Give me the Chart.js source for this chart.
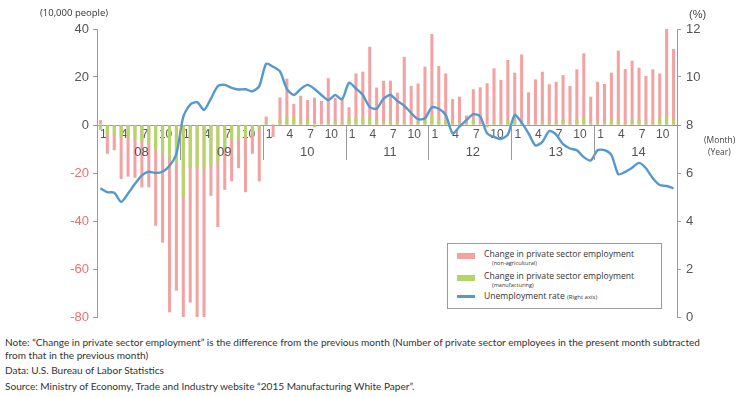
<!DOCTYPE html>
<html>
<head>
<meta charset="utf-8">
<script src="https://cdn.jsdelivr.net/npm/chart.js@4.4.1/dist/chart.umd.min.js"></script>
<style>
  html, body { margin: 0; padding: 0; background: #fff; }
  #wrap { position: relative; width: 738px; height: 397px; overflow: hidden; font-family: "Liberation Sans", Arial, sans-serif; color: #555; }
  #chartBox { position: absolute; left: 0; top: 0; width: 738px; height: 330px; }
  .lbl { position: absolute; white-space: nowrap; line-height: 1; }
  #legend { position: absolute; left: 447px; top: 243px; width: 215px; height: 66px; border: 1px solid #9a9a9a; box-sizing: border-box; background: #fff; font-family: "Open Sans", "Liberation Sans", sans-serif; color: #333; }
  .sw { position: absolute; left: 9px; width: 18px; }
  .lt { position: absolute; left: 36px; font-size: 8.6px; white-space: nowrap; line-height: 1; }
  .ls { font-size: 5.6px; }
  .note { position: absolute; left: 5px; font-family: Lato, "Open Sans", sans-serif; font-size: 10px; color: #333; white-space: nowrap; line-height: 1; transform-origin: 0 50%; }
</style>
</head>
<body>
<div id="wrap">
  <div id="chartBox"><canvas id="c" width="738" height="330"></canvas></div>

  <div class="lbl" style="left:40px; top:8px; font-size:9.5px; color:#333; font-family:'Open Sans',sans-serif;">(10,000 people)</div>
  <div class="lbl" style="left:689px; top:9px; font-size:11px; color:#444;">(%)</div>
  <div class="lbl" style="left:704px; top:136px; font-size:8.5px; color:#444; font-family:'Open Sans',sans-serif;">(Month)</div>
  <div class="lbl" style="left:708px; top:148px; font-size:8.5px; color:#444; font-family:'Open Sans',sans-serif;">(Year)</div>

  <div id="legend">
    <div class="sw" id="sw0" style="top:9px; height:6px;"></div>
    <div class="lt" style="top:6px;">Change in private sector employment</div>
    <div class="lt ls" style="top:17px; left:44px;">(non-agricultural)</div>
    <div class="sw" id="sw1" style="top:31px; height:6px;"></div>
    <div class="lt" style="top:28px;">Change in private sector employment</div>
    <div class="lt ls" style="top:39px; left:44px;">(manufacturing)</div>
    <div class="sw" id="sw2" style="top:51px; height:2.5px;"></div>
    <div class="lt" style="top:48px;">Unemployment rate <span class="ls" style="font-size:6px;">(Right axis)</span></div>
  </div>

  <div class="note" id="n1" style="top:337px;">Note: “Change in private sector employment” is the difference from the previous month (Number of private sector employees in the present month subtracted</div>
  <div class="note" id="n2" style="top:350px;">from that in the previous month)</div>
  <div class="note" id="n3" style="top:365px;">Data: U.S. Bureau of Labor Statistics</div>
  <div class="note" id="n4" style="top:381px;">Source: Ministry of Economy, Trade and Industry website “2015 Manufacturing White Paper”.</div>
</div>

<script>
// Calendar years shown on the axis and the months that get a tick label
const years = ['08', '09', '10', '11', '12', '13', '14'];
const monthTicks = [1, 4, 7, 10];

// Month-on-month change in private non-agricultural employment (10,000 people)
const nonAgri = [
  2, -12, -10.5, -22.5, -21.5, -22, -26, -26, -42, -49, -78, -69,        // 2008
  -82, -74, -81, -80, -29.5, -42.5, -27, -23.5, -18, -28, -12, -23.5,    // 2009
  3.5, -5, 11.5, 19.3, 8.8, 12.2, 10.4, 11.4, 10, 19.5, 11.3, 10.6,      // 2010
  7.4, 21.5, 22.2, 32.6, 15.6, 18.4, 18.5, 13.5, 28.4, 16.3, 17.3, 24.3, // 2011
  37.9, 24.6, 21.5, 10.8, 11.8, 4, 14.9, 15.7, 17.4, 23.6, 18.8, 27.1,   // 2012
  21.8, 29.4, 13.6, 19, 22.2, 17, 18, 20.8, 16.3, 23.2, 29.9, 11.8,      // 2013
  18, 17.1, 21.8, 31, 23.3, 26.8, 23.9, 20.4, 23.2, 21.5, 41.3, 31.7     // 2014
];

// Month-on-month change in manufacturing employment (10,000 people)
const manufacturing = [
  -2, -4, -4, -5, -5, -6, -7, -8, -10, -12, -14, -16,                   // 2008
  -30, -18, -18, -18, -17, -15, -10, -6, -6, -5, -4, -2,                // 2009
  1, 0.5, 2, 3.5, 3.5, 1.5, 2, -1, 0, 1, 1.5, 1,                        // 2010
  3, 3, 3, 3, 2, 1, 2, 1, 1, 1, 1.5, 2,                                 // 2011
  4, 2.5, 2, 1, 1, 1, 2, 0, -1, 1, 1, 2,                                // 2012
  2, 1, 0.5, 0.5, 1, 1, 1, 2, 1, 2, 3, 1,                               // 2013
  1, 1, 2, 2, 1, 2, 2, 1, 1, 3, 4, 2                                    // 2014
];

// Unemployment rate (%), right axis
const unemployment = [
  5.36, 5.2, 5.18, 4.8, 5.15, 5.55, 5.9, 6.05, 6.0, 6.05, 6.3, 6.8,      // 2008
  8.35, 8.85, 8.95, 8.63, 9.1, 9.62, 9.67, 9.55, 9.48, 9.49, 9.4, 9.62,  // 2009
  10.55, 10.43, 10.23, 9.5, 9.25, 9.5, 9.67, 9.5, 9.25, 9.04, 9.25, 9.07,// 2010
  9.76, 9.52, 9.25, 8.75, 8.68, 9.1, 9.25, 9.0, 8.8, 8.5, 8.24, 8.28,    // 2011
  8.74, 8.68, 8.42, 7.65, 7.93, 8.2, 8.45, 8.35, 7.65, 7.5, 7.42, 7.6,   // 2012
  8.42, 8.1, 7.65, 7.15, 7.3, 7.75, 7.6, 7.2, 7.02, 6.95, 6.66, 6.52,    // 2013
  6.95, 6.95, 6.75, 5.95, 6.05, 6.22, 6.42, 6.2, 5.78, 5.5, 5.46, 5.36   // 2014
];

const PINK = 'rgb(243,162,162)';
const GREEN = 'rgb(180,214,104)';
const BLUE = 'rgb(84,152,210)';
const AXIS = '#9a9a9a';
const TEXT = '#555';
const NEG_TEXT = 'rgb(236,112,112)';

// one category per month, labelled by its month number
const months = [];
years.forEach(y => { for (let m = 1; m <= 12; m++) months.push(y + '-' + m); });

document.getElementById('sw0').style.background = PINK;
document.getElementById('sw1').style.background = GREEN;
document.getElementById('sw2').style.background = BLUE;

// year labels under the month ticks, with separators between years
const yearBands = {
  id: 'yearBands',
  afterDraw(chart) {
    const x = chart.scales.x, y = chart.scales.y;
    const ctx = chart.ctx;
    const y0 = y.getPixelForValue(0);
    ctx.save();
    ctx.strokeStyle = AXIS;
    ctx.lineWidth = 1;
    for (let k = 1; k < years.length; k++) {
      const px = Math.round(x.getPixelForValue(12 * k - 0.5)) + 0.5;
      ctx.beginPath();
      ctx.moveTo(px, y0);
      ctx.lineTo(px, y0 + 35);
      ctx.stroke();
    }
    ctx.fillStyle = TEXT;
    ctx.font = '13px "Liberation Sans", Arial, sans-serif';
    ctx.textAlign = 'center';
    ctx.textBaseline = 'middle';
    years.forEach((yr, k) => {
      const px = x.getPixelForValue(12 * k + 5.5) + 3;
      ctx.fillText(yr, px, y0 + 27);
    });
    ctx.restore();
  }
};

new Chart(document.getElementById('c'), {
  type: 'bar',
  data: {
    labels: months,
    datasets: [
      {
        type: 'line', label: 'Unemployment rate', data: unemployment, yAxisID: 'y1',
        borderColor: BLUE, borderWidth: 2.4, pointRadius: 0, tension: 0.25, order: 0
      },
      {
        label: 'Change in private sector employment (manufacturing)', data: manufacturing, yAxisID: 'y',
        backgroundColor: GREEN, grouped: false, categoryPercentage: 1, barPercentage: 0.44, order: 1
      },
      {
        label: 'Change in private sector employment (non-agricultural)', data: nonAgri, yAxisID: 'y',
        backgroundColor: PINK, grouped: false, categoryPercentage: 1, barPercentage: 0.44, order: 2
      }
    ]
  },
  options: {
    responsive: false,
    animation: false,
    layout: { padding: { top: 29, bottom: 13, left: 0, right: 0 } },
    plugins: { legend: { display: false }, tooltip: { enabled: false } },
    scales: {
      x: {
        type: 'category',
        position: { y: 0 },
        z: 1,
        grid: { display: false, drawTicks: false },
        border: { display: true, color: AXIS, width: 1 },
        ticks: {
          autoSkip: false, maxRotation: 0, padding: 2, labelOffset: 3,
          color: TEXT, font: { size: 12, family: '"Liberation Sans", Arial, sans-serif' },
          callback: (v, i) => {
            const m = (i % 12) + 1;
            return monthTicks.includes(m) ? String(m) : '';
          }
        }
      },
      y: {
        position: 'left', min: -80, max: 40,
        afterFit: s => { s.width = 97; },
        grid: { drawOnChartArea: false, drawTicks: true, tickLength: 4, color: AXIS },
        border: { color: AXIS, width: 1 },
        ticks: {
          stepSize: 20, padding: 4,
          font: { size: 13, family: '"Liberation Sans", Arial, sans-serif' },
          color: c => (c.tick && c.tick.value < 0 ? NEG_TEXT : TEXT)
        }
      },
      y1: {
        position: 'right', min: 0, max: 12,
        afterFit: s => { s.width = 61; },
        grid: { drawOnChartArea: false, drawTicks: true, tickLength: 4, color: AXIS },
        border: { color: AXIS, width: 1 },
        ticks: {
          stepSize: 2, padding: 5, color: TEXT,
          font: { size: 13, family: '"Liberation Sans", Arial, sans-serif' }
        }
      }
    }
  },
  plugins: [yearBands]
});

// stretch the notes so the first line spans the same width as the plot block
(function fitNotes() {
  const n1 = document.getElementById('n1');
  const scale = 695 / n1.getBoundingClientRect().width;
  ['n1', 'n2', 'n3', 'n4'].forEach(id => {
    document.getElementById(id).style.transform = 'scaleX(' + scale.toFixed(4) + ')';
  });
})();
</script>
</body>
</html>
